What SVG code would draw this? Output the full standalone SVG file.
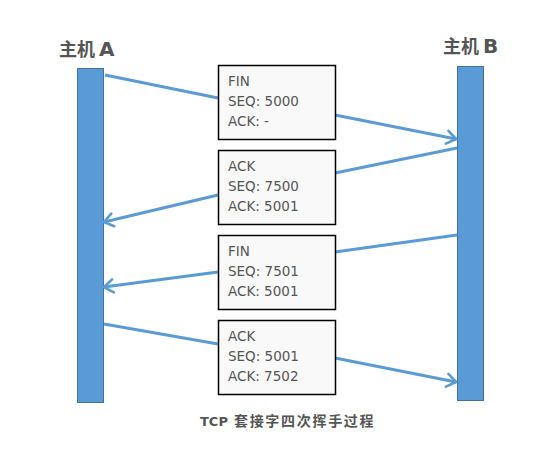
<svg xmlns="http://www.w3.org/2000/svg" width="554" height="450" viewBox="0 0 554 450">
<style>
.bar{fill:#5b9bd5;stroke:#41719c;stroke-width:1}
.box{fill:#f9f9f9;stroke:#000;stroke-width:1.5}
.lbl{font-family:"DejaVu Sans","Noto Sans CJK SC",sans-serif;font-size:13.5px;fill:#555}
.hdr{font-family:"DejaVu Sans","Noto Sans CJK SC",sans-serif;font-weight:bold;fill:#555}
.ln{fill:none;stroke:#5b9bd5;stroke-width:3}
</style>
<defs>
<marker id="ah" markerUnits="userSpaceOnUse" markerWidth="14" markerHeight="16" viewBox="0 0 14 16" refX="12" refY="8" orient="auto">
<path d="M3,1.5 L12,8 L3,14.5" fill="none" stroke="#5b9bd5" stroke-width="2.6" stroke-linecap="round" stroke-linejoin="round"/>
</marker>
</defs>
<rect width="554" height="450" fill="#fff"/>
<g id="hostA">
<rect class="bar" x="77.5" y="68.5" width="26" height="334"/>
<text class="hdr" x="59" y="56"><tspan font-family="Noto Sans CJK SC,sans-serif" font-size="18">主机</tspan><tspan font-size="20" dx="4">A</tspan></text>
</g>
<g id="hostB">
<rect class="bar" x="457.5" y="66.5" width="26" height="334"/>
<text class="hdr" x="443" y="53"><tspan font-family="Noto Sans CJK SC,sans-serif" font-size="18">主机</tspan><tspan font-size="20" dx="4">B</tspan></text>
</g>
<g id="connectors">
<line class="ln" x1="105" y1="75" x2="218" y2="98"/>
<line class="ln" x1="335" y1="115" x2="456" y2="139" marker-end="url(#ah)"/>
<line class="ln" x1="457" y1="148" x2="335" y2="173"/>
<line class="ln" x1="218" y1="195" x2="104" y2="222" marker-end="url(#ah)"/>
<line class="ln" x1="457" y1="235" x2="335" y2="252"/>
<line class="ln" x1="218" y1="272" x2="104" y2="287" marker-end="url(#ah)"/>
<line class="ln" x1="104" y1="324" x2="218" y2="344"/>
<line class="ln" x1="335" y1="358" x2="456" y2="382" marker-end="url(#ah)"/>
</g>
<g id="msg1">
<rect class="box" x="218.5" y="65.5" width="117" height="74"/>
<text class="lbl" x="228" y="85.7">FIN</text>
<text class="lbl" x="228" y="105.7">SEQ: 5000</text>
<text class="lbl" x="228" y="125.7">ACK: -</text>
</g>
<g id="msg2">
<rect class="box" x="218.5" y="150.5" width="117" height="74"/>
<text class="lbl" x="228" y="170.7">ACK</text>
<text class="lbl" x="228" y="190.7">SEQ: 7500</text>
<text class="lbl" x="228" y="210.7">ACK: 5001</text>
</g>
<g id="msg3">
<rect class="box" x="218.5" y="235.5" width="117" height="74"/>
<text class="lbl" x="228" y="255.7">FIN</text>
<text class="lbl" x="228" y="275.7">SEQ: 7501</text>
<text class="lbl" x="228" y="295.7">ACK: 5001</text>
</g>
<g id="msg4">
<rect class="box" x="218.5" y="320.5" width="117" height="74"/>
<text class="lbl" x="228" y="340.7">ACK</text>
<text class="lbl" x="228" y="360.7">SEQ: 5001</text>
<text class="lbl" x="228" y="380.7">ACK: 7502</text>
</g>
<g id="caption">
<text class="hdr" x="200" y="426" font-size="13">TCP<tspan font-family="Noto Sans CJK SC,sans-serif" font-size="14" letter-spacing="1.7" dx="6">套接字四次挥手过程</tspan></text>
</g>
</svg>
